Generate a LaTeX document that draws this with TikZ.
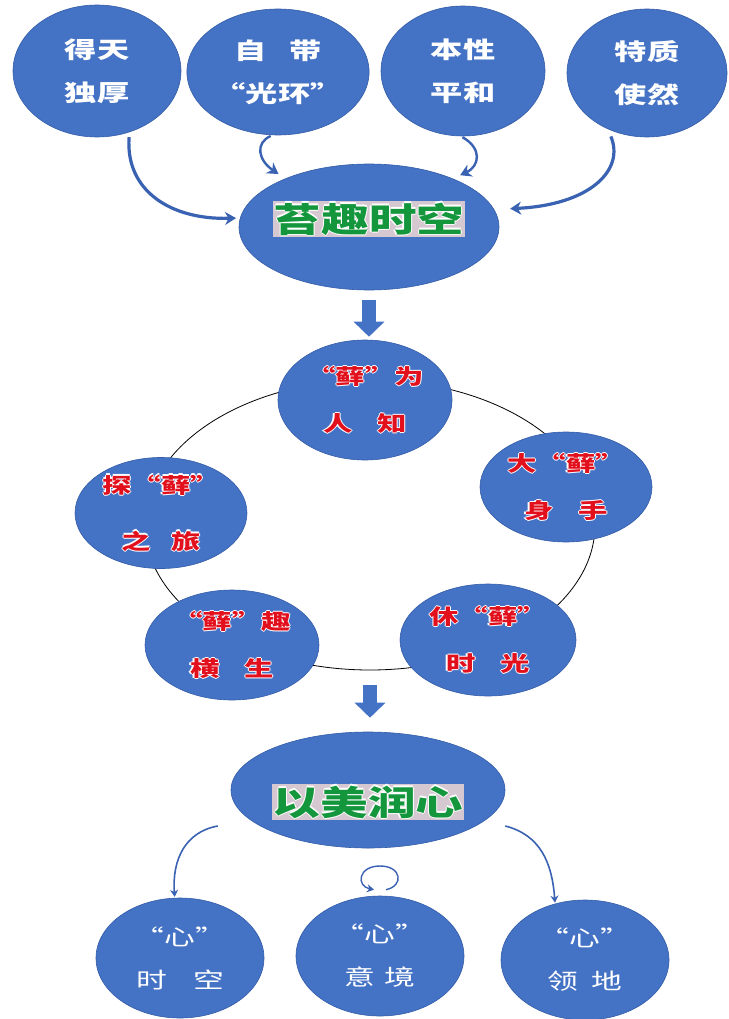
\documentclass[tikz,border=0pt]{standalone}
\usepackage{fontspec}
\newfontfamily\cjk[FakeStretch=1.4]{Noto Sans CJK SC}
\usetikzlibrary{shapes.geometric,arrows.meta,calc}

\definecolor{ballblue}{RGB}{68,114,196}
\definecolor{balledge}{RGB}{52,92,168}
\definecolor{arrowblue}{RGB}{58,98,178}
\definecolor{titlegreen}{RGB}{20,150,60}
\definecolor{titleshade}{RGB}{214,200,208}
\definecolor{wordred}{RGB}{226,16,28}

\newcommand\halo[3]{\leavevmode
  \rlap{\kern1.1pt\textcolor{#1}{#3}}%
  \rlap{\kern-1.1pt\textcolor{#1}{#3}}%
  \rlap{\raisebox{1.1pt}{\textcolor{#1}{#3}}}%
  \rlap{\raisebox{-1.1pt}{\textcolor{#1}{#3}}}%
  \textcolor{#2}{#3}}
\newcommand\redword[1]{\halo{white}{wordred}{#1}}

\tikzset{
  ball/.style={ellipse, fill=ballblue, draw=balledge, line width=0.6pt, inner sep=0pt, align=center},
  topball/.style={ball, minimum width=164pt, minimum height=130pt, text=white, font={\cjk\bfseries\fontsize{23}{43}\selectfont}},
  ringball/.style={ball, minimum width=174pt, minimum height=112pt, font={\cjk\bfseries\fontsize{21}{47}\selectfont}},
  lowball/.style={ball, minimum width=168pt, minimum height=120pt, text=white, font={\cjk\fontsize{22}{43}\selectfont}},
  bigoval/.style={ball, minimum width=260pt, minimum height=126pt},
  title/.style={font={\cjk\bfseries\fontsize{34}{40}\selectfont}, fill=titleshade, inner sep=1pt},
  curvearrow/.style={arrowblue, line width=3.2pt, -{Stealth[length=11pt,width=13pt]}},
  thinarrow/.style={arrowblue, line width=1.6pt, -{Stealth[length=7pt,width=8pt]}},
  blockarrow/.style={ballblue, line width=14pt, -{Triangle[length=15pt,width=30pt]}}
}

\begin{document}
\begin{tikzpicture}[x=1pt,y=-1pt]
\useasboundingbox[fill=white] (0,0) rectangle (728,1019);

\draw[line width=0.8pt] (370,525) ellipse [x radius=225, y radius=145];
\coordinate (ringfoot) at (370,670);

\node (t1) [topball, minimum width=168pt, minimum height=132pt] at (97,71) {得天\\独厚};
\node (t2) [topball, minimum width=160pt, minimum height=126pt] at (278,72) {自\quad 带\\“光环”};
\node (t3) [topball] at (463,71) {本性\\平和};
\node (t4) [topball, minimum width=160pt, minimum height=128pt] at (647,73) {特质\\使然};

\node (m1) [bigoval, label={[title, yshift=8pt]center:{\halo{white}{titlegreen}{苔趣时空}}}] at (369,227) {};

\node (r1) [ringball, minimum height=120pt] at (365,400) {\redword{“藓”为}\\\redword{人\hspace{1.2em}知}};
\node (r2) [ringball, minimum width=172pt, minimum height=110pt] at (566,487) {\redword{大“藓”}\\\redword{身\hspace{1.2em}手}};
\node (r3) [ringball, minimum width=172pt, minimum height=106pt] at (161,513) {\redword{探“藓”}\\[9pt]\redword{之\hspace{1em}旅}};
\node (r4) [ringball, minimum height=110pt] at (232,645) {\redword{“藓”趣}\\\redword{横\hspace{1.2em}生}};
\node (r5) [ringball, minimum width=176pt] at (488,640) {\redword{休“藓”}\\\redword{时\hspace{1.2em}光}};

\node (m2) [bigoval, minimum width=274pt, minimum height=116pt, label={[title, yshift=-12pt]center:{\halo{white}{titlegreen}{以美润心}}}] at (368,790) {};

\node (b1) [lowball] at (180,958) {“心”\\时\hspace{1.2em}空};
\node (b2) [lowball] at (380,956) {“心”\\意\hspace{0.4em}境};
\node (b3) [lowball] at (585,960) {“心”\\领\hspace{0.6em}地};

\draw[curvearrow, shorten <=5pt, shorten >=4pt] (t1.-62) .. controls (125,190) and (170,220) .. (m1.176);
\draw[curvearrow, line width=2.4pt, shorten <=2pt, shorten >=8pt] (t2.-95) .. controls (255,143) and (258,160) .. (m1.150);
\draw[curvearrow, line width=2.4pt, shorten <=2pt, shorten >=8pt] (t3.-92) .. controls (482,148) and (480,166) .. (m1.30);
\draw[curvearrow, shorten <=8pt, shorten >=16pt] (t4.-125) .. controls (625,170) and (590,205) .. (m1.8);

\draw[blockarrow, shorten <=10pt, shorten >=3pt] (m1.south) -- (m1.south |- r1.north);
\draw[blockarrow, shorten <=15pt, shorten >=14pt] (ringfoot) -- (ringfoot |- m2.north);

\draw[thinarrow, shorten >=1pt] ($(m2.west)+(-13,36)$) .. controls (185,832) and (172,860) .. (b1.95);
\draw[thinarrow, shorten >=1pt] ($(m2.east)+(0,36)$) .. controls (540,835) and (552,862) .. (b3.118);
\draw[thinarrow, line width=1.4pt] ($(b2.north)+(6,-6)$) .. controls (404,886) and (402,866) .. (380,866) .. controls (358,866) and (356,886) .. ($(b2.north)+(-6,-6)$);
\end{tikzpicture}
\end{document}
